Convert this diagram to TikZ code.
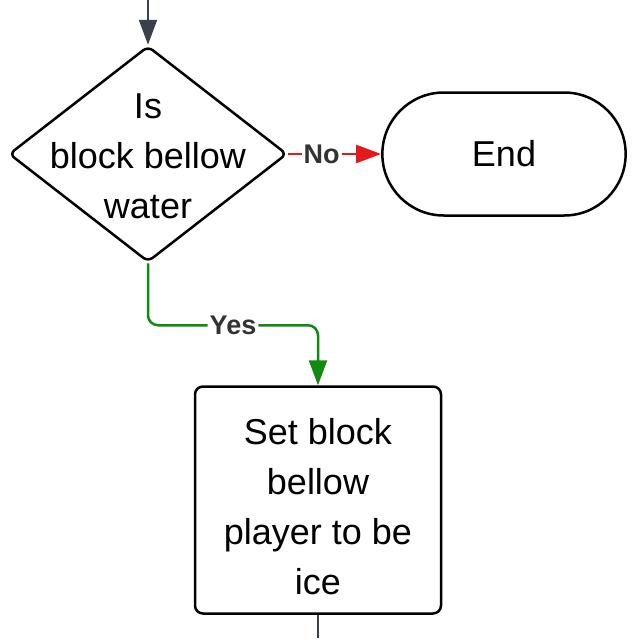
\documentclass[tikz,border=0pt]{standalone}
\usepackage{fontspec}
\setmainfont{Liberation Sans}
\usetikzlibrary{shapes.geometric,shapes.misc,arrows.meta}

\definecolor{arrowgray}{HTML}{3B414B}
\definecolor{noRed}{HTML}{E3191B}
\definecolor{yesGreen}{HTML}{118A11}
\definecolor{labelgray}{HTML}{333333}

\tikzset{
  decision/.style={diamond, draw, line width=2.5pt, rounded corners=6pt,
    minimum width=278pt, minimum height=216pt, inner sep=0pt},
  terminal/.style={rounded rectangle, draw, line width=2.5pt,
    minimum width=250pt, minimum height=123pt},
  process/.style={rectangle, draw, line width=2.5pt, rounded corners=8pt,
    minimum width=246pt, minimum height=227pt},
  bigtext/.style={font=\fontsize{36}{50}\selectfont, align=center},
  edgelabel/.style={font=\fontsize{27}{30}\selectfont\bfseries,
    text=labelgray, fill=white, inner sep=2pt},
  tip/.style={-{Triangle[length=25pt,width=18pt]}},
}

\begin{document}
\begin{tikzpicture}[x=1pt,y=-1pt]
  \useasboundingbox (0,0) rectangle (640,638);

  \node[decision] (check) at (148,154) {};
  \node[bigtext] (checktext) at ([yshift=-2pt]check) {Is\\block bellow\\water};
  \node[terminal, bigtext] (stop) at (504,154) {End};
  \node[process] (setice) at (318,500) {};
  \node[bigtext] (seticetext) at ([yshift=-7pt]setice) {Set block\\bellow\\player to be\\ice};

  \coordinate (in) at (148,0);
  \coordinate (out) at (318,638);

  \draw[tip, arrowgray, line width=2pt] (in) -- (check.north);
  \draw[tip, noRed, line width=2.5pt] (check.east) -- node[edgelabel, pos=0.36] {No} (stop.west);
  \draw[tip, yesGreen, line width=2.5pt, rounded corners=10pt]
    (check.south) -- ++(0,62) -| node[edgelabel, pos=0.25] {Yes} (setice.north);
  \draw[arrowgray, line width=1.5pt] (setice.south) -- (out);
\end{tikzpicture}
\end{document}
